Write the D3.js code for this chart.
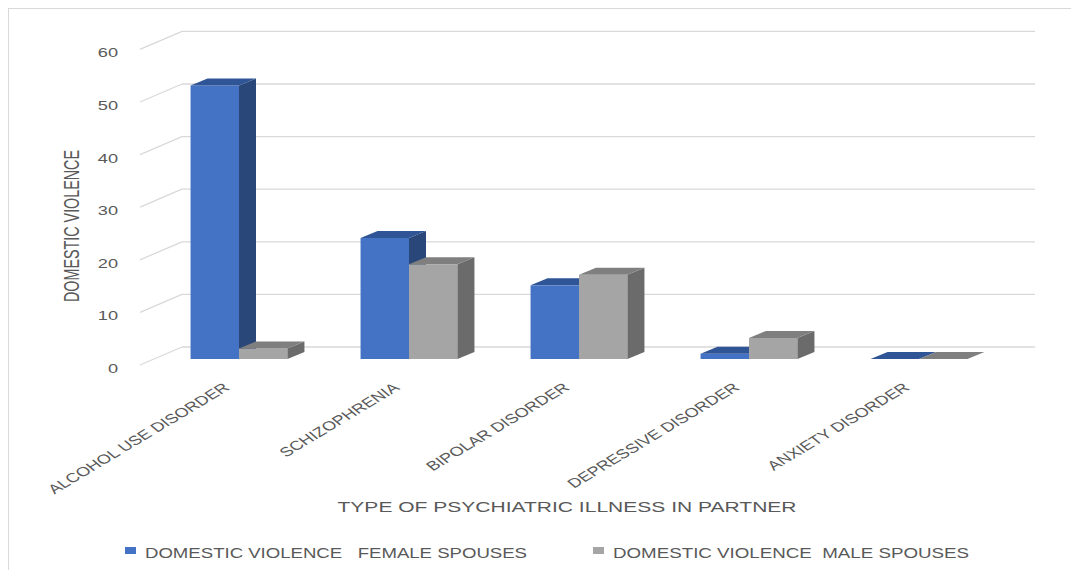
<!DOCTYPE html>
<html>
<head>
<meta charset="utf-8">
<script src="https://cdn.jsdelivr.net/npm/d3@7"></script>
<style>
  body { margin: 0; background: #fff; }
  text { font-family: "Liberation Sans", Arial, sans-serif; fill: #595959; }
</style>
</head>
<body>
<svg id="chart" width="1071" height="570"></svg>
<script>
// chart data
var categories = ["ALCOHOL USE DISORDER", "SCHIZOPHRENIA", "BIPOLAR DISORDER", "DEPRESSIVE DISORDER", "ANXIETY DISORDER"];
var femaleValues = [52, 23, 14, 1, 0];
var maleValues = [2, 18, 16, 4, 0];
var seriesNames = ["DOMESTIC VIOLENCE   FEMALE SPOUSES", "DOMESTIC VIOLENCE  MALE SPOUSES"];
var yTicks = [0, 10, 20, 30, 40, 50, 60];
var yTitle = "DOMESTIC VIOLENCE";
var xTitle = "TYPE OF PSYCHIATRIC ILLNESS IN PARTNER";

var series = [femaleValues, maleValues];
var colors = [
    {front: "#4472c4", side: "#294779", top: "#2f5597"},
    {front: "#a5a5a5", side: "#6b6b6b", top: "#7f7f7f"}
];

var svg = d3.select("#chart");
var stretch = 1.4;   // text in the picture is drawn wide

// outer border
svg.append("rect")
    .attr("x", 8.5).attr("y", 8.5)
    .attr("width", 1080).attr("height", 580)
    .attr("fill", "none")
    .attr("stroke", "#d9d9d9");

// y scale in the plane of the bar fronts
var y = d3.scaleLinear().domain([0, 60]).range([359, 359 - 315.6]);
var wallLeft = 182, wallRight = 1035, wallFrontX = 140;
var backOff = -12, frontOff = 6;   // vertical offsets of back wall / left wall front edge
var bd = {dx: 17, dy: -7};         // bar depth

// gridlines: back wall and left wall
var grid = svg.append("g").attr("stroke", "#d9d9d9").attr("stroke-width", 1.3).attr("fill", "none");
yTicks.forEach(function (t) {
    grid.append("line")
        .attr("x1", wallLeft).attr("x2", wallRight)
        .attr("y1", y(t) + backOff).attr("y2", y(t) + backOff);
    grid.append("line")
        .attr("x1", wallFrontX).attr("x2", wallLeft)
        .attr("y1", y(t) + frontOff).attr("y2", y(t) + backOff);
});

// tick labels
svg.append("g").selectAll("text")
    .data(yTicks)
    .join("text")
    .attr("transform", function (d) { return "translate(118," + (y(d) + frontOff + 3.5) + ") scale(" + stretch + ",1)"; })
    .attr("text-anchor", "end")
    .attr("dominant-baseline", "central")
    .style("font-size", "13px")
    .text(function (d) { return d; });

// x scales
var x0 = d3.scaleBand().domain(categories).range([154, 1004]).paddingInner(0.43).paddingOuter(0.215);
var x1 = d3.scaleBand().domain([0, 1]).range([0, x0.bandwidth()]);

// 3d bars
var bars = svg.append("g");
categories.forEach(function (cat, i) {
    series.forEach(function (vals, s) {
        var v = vals[i];
        var xl = x0(cat) + x1(s), w = x1.bandwidth();
        var yt = y(v), yb = y(0);
        var c = colors[s];
        bars.append("rect")
            .attr("x", xl).attr("y", yt)
            .attr("width", w).attr("height", yb - yt)
            .attr("fill", c.front);
        bars.append("polygon")
            .attr("points", [[xl + w, yt], [xl + w + bd.dx, yt + bd.dy], [xl + w + bd.dx, yb + bd.dy], [xl + w, yb]].join(" "))
            .attr("fill", c.side);
        bars.append("polygon")
            .attr("points", [[xl, yt], [xl + bd.dx, yt + bd.dy], [xl + w + bd.dx, yt + bd.dy], [xl + w, yt]].join(" "))
            .attr("fill", c.top);
    });
});

// category labels
svg.append("g").selectAll("text")
    .data(categories)
    .join("text")
    .attr("transform", function (d) {
        return "translate(" + (x0(d) + x0.bandwidth() / 2 - 8.5) + ",389) scale(" + stretch + ",1) rotate(-40)";
    })
    .attr("text-anchor", "end")
    .style("font-size", "13px")
    .text(function (d) { return d; });

// axis titles
svg.append("text")
    .attr("transform", "translate(71,226) scale(" + stretch + ",1) rotate(-90)")
    .attr("text-anchor", "middle")
    .attr("dominant-baseline", "central")
    .attr("textLength", 152)
    .attr("lengthAdjust", "spacingAndGlyphs")
    .style("font-size", "16px")
    .text(yTitle);

svg.append("text")
    .attr("transform", "translate(567,512) scale(" + stretch + ",1)")
    .attr("text-anchor", "middle")
    .attr("textLength", 459 / stretch)
    .attr("lengthAdjust", "spacingAndGlyphs")
    .style("font-size", "15px")
    .text(xTitle);

// legend
var legendX = [125, 593];
var legendLen = [382, 356];
var legend = svg.append("g");
seriesNames.forEach(function (name, s) {
    legend.append("rect")
        .attr("x", legendX[s]).attr("y", 547)
        .attr("width", 11).attr("height", 7)
        .attr("fill", colors[s].front);
    legend.append("text")
        .attr("transform", "translate(" + (legendX[s] + 20) + ",558) scale(" + stretch + ",1)")
        .attr("textLength", legendLen[s] / stretch)
        .attr("lengthAdjust", "spacingAndGlyphs")
        .style("font-size", "14px")
        .style("white-space", "pre")
        .text(name);
});
</script>
</body>
</html>
